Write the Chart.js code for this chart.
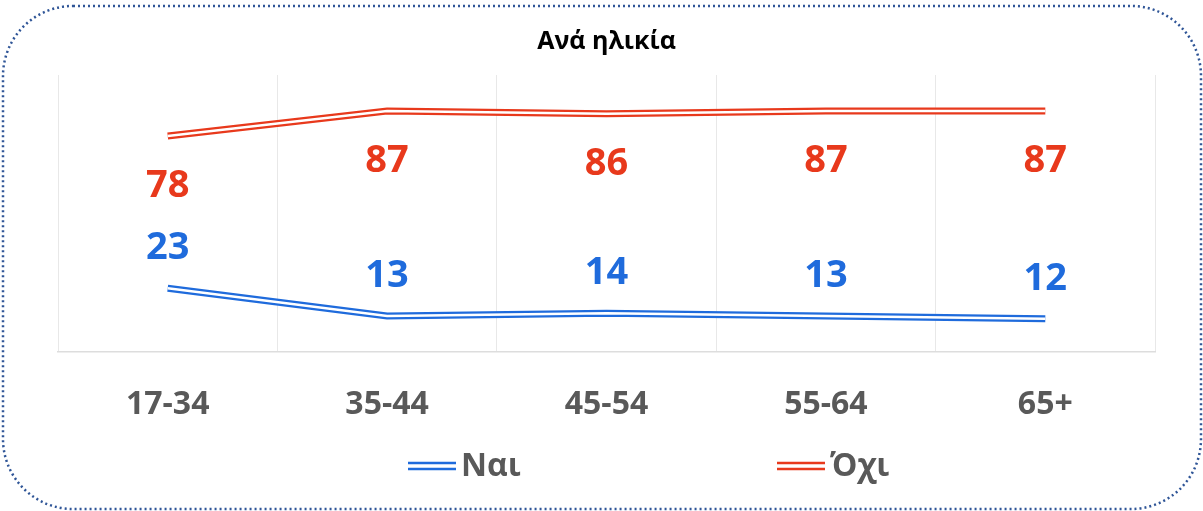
<!DOCTYPE html>
<html>
<head>
<meta charset="utf-8">
<script src="https://cdn.jsdelivr.net/npm/chart.js@4"></script>
<style>
  body { margin: 0; background: #fff; }
  #wrap { width: 1203px; height: 511px; }
</style>
</head>
<body>
<div id="wrap"><canvas id="ages" width="1203" height="511"></canvas></div>
<script>
  // Data
  const ageGroups = ['17-34', '35-44', '45-54', '55-64', '65+'];
  const yesValues = [23, 13, 14, 13, 12];   // Ναι
  const noValues = [78, 87, 86, 87, 87];    // Όχι
  const seriesNames = ['Ναι', 'Όχι'];

  const blue = '#1F6BDC';
  const red = '#E8391C';
  const grey = '#595959';
  const font = '"Open Sans", "Noto Sans", sans-serif';

  // two datasets per series: a thick colored line with a thin white line on top (double line look)
  function doubleLine(label, values, color) {
    return [
      { label: label, data: values, borderColor: color, borderWidth: 7, pointRadius: 0, order: 2, fill: false },
      { label: label + '_gap', data: values, borderColor: '#ffffff', borderWidth: 2.4, pointRadius: 0, order: 1, fill: false }
    ];
  }

  // value labels: red under its line, blue above its line
  const valueLabels = {
    id: 'valueLabels',
    afterDatasetsDraw(chart) {
      const ctx = chart.ctx;
      ctx.save();
      ctx.font = 'bold 38px ' + font;
      ctx.textAlign = 'center';
      ctx.textBaseline = 'middle';
      [[0, blue, -40], [2, red, 50]].forEach(([idx, color, shift]) => {
        const meta = chart.getDatasetMeta(idx);
        const values = chart.data.datasets[idx].data;
        ctx.fillStyle = color;
        meta.data.forEach((pt, i) => {
          ctx.fillText(values[i], pt.x, pt.y + shift);
        });
      });
      ctx.restore();
    }
  };

  // legend with double line swatches, spaced like the original
  const doubleLegend = {
    id: 'doubleLegend',
    afterDraw(chart) {
      const ctx = chart.ctx;
      const items = [[seriesNames[0], blue, 408], [seriesNames[1], red, 777]];
      const y = 466;
      ctx.save();
      ctx.font = 'bold 32px ' + font;
      ctx.textBaseline = 'middle';
      ctx.textAlign = 'left';
      items.forEach(([text, color, x]) => {
        ctx.strokeStyle = color;
        ctx.lineWidth = 2.5;
        ctx.beginPath();
        ctx.moveTo(x, y - 3); ctx.lineTo(x + 48, y - 3);
        ctx.moveTo(x, y + 3); ctx.lineTo(x + 48, y + 3);
        ctx.stroke();
        ctx.fillStyle = grey;
        ctx.fillText(text, x + 53, y + 1);
      });
      ctx.restore();
    }
  };

  // dotted rounded frame around the whole chart
  const frame = {
    id: 'frame',
    beforeDraw(chart) {
      const ctx = chart.ctx;
      const x = 3, y = 6, w = 1198, h = 503, r = 70;
      ctx.save();
      ctx.fillStyle = '#ffffff';
      ctx.fillRect(0, 0, chart.width, chart.height);
      ctx.strokeStyle = '#2F5597';
      ctx.lineWidth = 2.5;
      ctx.setLineDash([2, 3]);
      ctx.beginPath();
      ctx.roundRect(x, y, w, h, r);
      ctx.stroke();
      ctx.restore();
    }
  };

  const ageChart = new Chart(document.getElementById('ages').getContext('2d'), {
    type: 'line',
    data: {
      labels: ageGroups,
      datasets: [
        ...doubleLine(seriesNames[0], yesValues, blue),
        ...doubleLine(seriesNames[1], noValues, red)
      ]
    },
    options: {
      responsive: false,
      animation: false,
      layout: { padding: { left: 58, right: 48, top: 0, bottom: 0 } },
      plugins: {
        legend: { display: false },
        tooltip: { enabled: false },
        title: {
          display: true,
          text: 'Ανά ηλικία',
          color: '#000000',
          font: { family: font, size: 25, weight: 'bold' },
          padding: { top: 27, bottom: 18 }
        }
      },
      scales: {
        x: {
          offset: true,
          grid: { offset: true, color: '#E8E8E8', drawTicks: false },
          border: { color: '#DDDDDD', width: 1.5 },
          ticks: { color: grey, padding: 34, font: { family: font, size: 32, weight: 'bold' } },
          afterFit(scale) { scale.height = 159; }
        },
        y: {
          display: false,
          min: 0,
          max: 100
        }
      }
    },
    plugins: [frame, valueLabels, doubleLegend]
  });
</script>
</body>
</html>
